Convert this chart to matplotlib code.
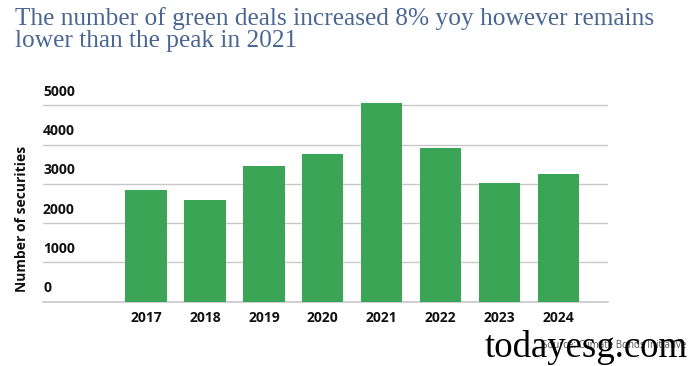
import matplotlib
matplotlib.use("Agg")
import matplotlib.pyplot as plt
from matplotlib.transforms import ScaledTranslation

years = ["2017", "2018", "2019", "2020", "2021", "2022", "2023", "2024"]
deals = [2840, 2590, 3450, 3760, 5060, 3920, 3020, 3250]
yticks = [0, 1000, 2000, 3000, 4000, 5000]
title = "The number of green deals increased 8% yoy however remains\nlower than the peak in 2021"

W, H = 688, 366
fig = plt.figure(figsize=(W / 100, H / 100), dpi=100)
ax = fig.add_axes([43 / W, 1 - 301.7 / H, (608 - 43) / W, (301.7 - 101.3) / H])

x = list(range(len(years)))
ax.bar(x, deals, width=0.70, color="#3aa655", zorder=2)
ax.set_xlim(-1.75, 7.84)
ax.set_ylim(0, 5100)

for s in ax.spines.values():
    s.set_visible(False)
ax.set_yticks(yticks)
ax.set_yticklabels([str(v) for v in yticks])
ax.grid(axis="y", color="#c8c8c8", linewidth=1.0, zorder=0)
ax.axhline(0, color="#c8c8c8", linewidth=1.2, zorder=1, clip_on=False)
ax.tick_params(axis="y", length=0, pad=0)
ax.tick_params(axis="x", length=0, pad=7)
ax.set_xticks(x)
ax.set_xticklabels(years)

offset = ScaledTranslation(0, 9.5 / 100, fig.dpi_scale_trans)
for lab in ax.get_yticklabels():
    lab.set_horizontalalignment("left")
    lab.set_verticalalignment("baseline")
    lab.set_fontfamily("Open Sans")
    lab.set_fontweight("bold")
    lab.set_fontsize(10)
    lab.set_color("#111111")
    lab.set_transform(lab.get_transform() + offset)
for lab in ax.get_xticklabels():
    lab.set_fontfamily("Open Sans")
    lab.set_fontweight("bold")
    lab.set_fontsize(10)
    lab.set_color("#111111")

fig.text(22 / W, 1 - 219 / H, "Number of securities", rotation=90, ha="center", va="center",
         family="Open Sans", fontweight="bold", fontsize=10, color="#111111")

fig.text(15 / W, 1 - 25 / H, title.split("\n")[0], ha="left", va="baseline", family="Liberation Serif",
         fontsize=18.3, color="#4a6794")
fig.text(15 / W, 1 - 46.7 / H, title.split("\n")[1], ha="left", va="baseline", family="Liberation Serif",
         fontsize=18.3, color="#4a6794")

fig.text(686 / W, 1 - 346 / H, "Source: Climate Bonds Initiative", ha="right", va="center",
         family="Open Sans", fontsize=7, color="#555555")
fig.text(688 / W, 1 - 357 / H, "todayesg.com", ha="right", va="baseline",
         family="Liberation Serif", fontsize=26.5, color="#000000")

fig.savefig("out.png", dpi=100)
